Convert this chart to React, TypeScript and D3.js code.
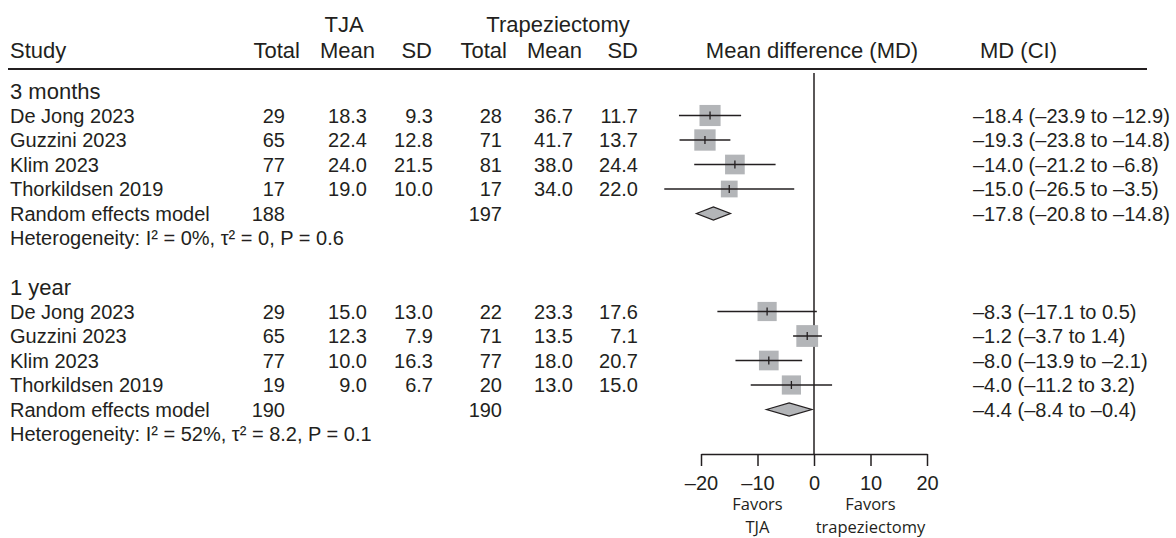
import React, { useEffect, useRef } from "react";
import * as d3 from "d3";

// studies (same four at both time points)
const studies3m = ["De Jong 2023", "Guzzini 2023", "Klim 2023", "Thorkildsen 2019"];
const studies1y = ["De Jong 2023", "Guzzini 2023", "Klim 2023", "Thorkildsen 2019"];

// 3 months: TJA arm / trapeziectomy arm
const tjaTotal3m = [29, 65, 77, 17];
const tjaMean3m = [18.3, 22.4, 24.0, 19.0];
const tjaSd3m = [9.3, 12.8, 21.5, 10.0];
const trapTotal3m = [28, 71, 81, 17];
const trapMean3m = [36.7, 41.7, 38.0, 34.0];
const trapSd3m = [11.7, 13.7, 24.4, 22.0];

// 1 year
const tjaTotal1y = [29, 65, 77, 19];
const tjaMean1y = [15.0, 12.3, 10.0, 9.0];
const tjaSd1y = [13.0, 7.9, 16.3, 6.7];
const trapTotal1y = [22, 71, 77, 20];
const trapMean1y = [23.3, 13.5, 18.0, 13.0];
const trapSd1y = [17.6, 7.1, 20.7, 15.0];

// mean difference + CI
const md3m = [-18.4, -19.3, -14.0, -15.0];
const lo3m = [-23.9, -23.8, -21.2, -26.5];
const hi3m = [-12.9, -14.8, -6.8, -3.5];
const md1y = [-8.3, -1.2, -8.0, -4.0];
const lo1y = [-17.1, -3.7, -13.9, -11.2];
const hi1y = [0.5, 1.4, -2.1, 3.2];

// box weights (estimated from the square sizes)
const weight3m = [46, 47, 40, 29];
const weight1y = [38, 49, 40, 38];

// random effects model: [TJA total, trap total] and [md, lo, hi]
const reTotals3m = [188, 197];
const reTotals1y = [190, 190];
const re3m = [-17.8, -20.8, -14.8];
const re1y = [-4.4, -8.4, -0.4];

const hetero3m = "Heterogeneity: I² = 0%, τ² = 0, P = 0.6";
const hetero1y = "Heterogeneity: I² = 52%, τ² = 8.2, P = 0.1";

const xTicks = [-20, -10, 0, 10, 20];
const favorLabels = [
  { at: -10, lines: ["Favors", "TJA"] },
  { at: 10, lines: ["Favors", "trapeziectomy"] },
];

const groups = [
  {
    label: "3 months", studies: studies3m,
    tjaTotal: tjaTotal3m, tjaMean: tjaMean3m, tjaSd: tjaSd3m,
    trapTotal: trapTotal3m, trapMean: trapMean3m, trapSd: trapSd3m,
    md: md3m, lo: lo3m, hi: hi3m, weight: weight3m,
    reTotals: reTotals3m, re: re3m, hetero: hetero3m,
  },
  {
    label: "1 year", studies: studies1y,
    tjaTotal: tjaTotal1y, tjaMean: tjaMean1y, tjaSd: tjaSd1y,
    trapTotal: trapTotal1y, trapMean: trapMean1y, trapSd: trapSd1y,
    md: md1y, lo: lo1y, hi: hi1y, weight: weight1y,
    reTotals: reTotals1y, re: re1y, hetero: hetero1y,
  },
];

const ink = "#231f20";
const boxFill = "#b3b5b8";
const font = "'Liberation Sans', Arial, Helvetica, sans-serif";

const fmt = (v: number) => (v < 0 ? "\u2013" : "") + Math.abs(v).toFixed(1);
const fmtTick = (v: number) => (v < 0 ? "\u2013" : "") + Math.abs(v);

function App() {
  const svgRef = useRef<SVGSVGElement>(null);

  useEffect(() => {
    const svg = d3.select(svgRef.current);
    if (!svg.node()) return;
    svg.selectAll("*").remove();

    const x = d3.scaleLinear().domain([-20, 20]).range([701, 927]);
    const row = d3.scaleLinear().domain([0, 14]).range([91, 434]);
    const box = d3.scaleSqrt().domain([0, 50]).range([0, 22]);
    const axisY = 454;

    // column right edges (values) and header right edges
    const cols = [285, 367, 433, 502, 573, 638];
    const heads = [
      { t: "Total", r: 300 }, { t: "Mean", r: 375 }, { t: "SD", r: 432 },
      { t: "Total", r: 507 }, { t: "Mean", r: 582 }, { t: "SD", r: 638 },
    ];
    const mdX = 973;

    const txt = (s: string, px: number, py: number, size = 20, anchor = "start") =>
      svg.append("text")
        .attr("x", px).attr("y", py)
        .attr("font-family", font).attr("font-size", size)
        .attr("fill", ink).attr("text-anchor", anchor)
        .text(s);

    // headers
    txt("TJA", 344, 32, 22, "middle");
    txt("Trapeziectomy", 558, 32, 22, "middle");
    txt("Study", 10, 58, 22);
    heads.forEach((h) => txt(h.t, h.r, 58, 22, "end"));
    txt("Mean difference (MD)", x(0) - 2, 58, 22, "middle");
    txt("MD (CI)", 980, 58, 22);

    svg.append("line")
      .attr("x1", 8).attr("x2", 1147).attr("y1", 69).attr("y2", 69)
      .attr("stroke", ink).attr("stroke-width", 2);

    // zero line
    svg.append("line")
      .attr("x1", x(0)).attr("x2", x(0)).attr("y1", 73).attr("y2", axisY)
      .attr("stroke", ink).attr("stroke-width", 1.5);

    groups.forEach((g, gi) => {
      const base = gi * 8;
      txt(g.label, 10, row(base) + 8, 22);

      g.studies.forEach((name, i) => {
        const cy = row(base + 1 + i);
        const by = cy + 7;
        txt(name, 10, by);
        const vals = [
          String(g.tjaTotal[i]), g.tjaMean[i].toFixed(1), g.tjaSd[i].toFixed(1),
          String(g.trapTotal[i]), g.trapMean[i].toFixed(1), g.trapSd[i].toFixed(1),
        ];
        vals.forEach((v, k) => txt(v, cols[k], by, 20, "end"));

        const s = box(g.weight[i]);
        svg.append("rect")
          .attr("x", x(g.md[i]) - s / 2).attr("y", cy - s / 2)
          .attr("width", s).attr("height", s)
          .attr("fill", boxFill);
        svg.append("line")
          .attr("x1", x(g.lo[i])).attr("x2", x(g.hi[i]))
          .attr("y1", cy).attr("y2", cy)
          .attr("stroke", ink).attr("stroke-width", 1.5);
        svg.append("line")
          .attr("x1", x(g.md[i])).attr("x2", x(g.md[i]))
          .attr("y1", cy - 4).attr("y2", cy + 4)
          .attr("stroke", ink).attr("stroke-width", 1.3);

        txt(`${fmt(g.md[i])} (${fmt(g.lo[i])} to ${fmt(g.hi[i])})`, mdX, by);
      });

      // random effects model
      const ry = row(base + 5);
      txt("Random effects model", 10, ry + 7);
      txt(String(g.reTotals[0]), cols[0], ry + 7, 20, "end");
      txt(String(g.reTotals[1]), cols[3], ry + 7, 20, "end");
      const [m, lo, hi] = g.re;
      const dh = 6.5;
      svg.append("path")
        .attr("d", `M${x(lo)},${ry}L${x(m)},${ry - dh}L${x(hi)},${ry}L${x(m)},${ry + dh}Z`)
        .attr("fill", boxFill).attr("stroke", ink).attr("stroke-width", 1.3);
      txt(`${fmt(m)} (${fmt(lo)} to ${fmt(hi)})`, mdX, ry + 7);

      txt(g.hetero, 10, row(base + 6) + 7);
    });

    // x axis
    const ax = svg.append("g")
      .attr("transform", `translate(0,${axisY})`)
      .call(
        d3.axisBottom(x)
          .tickValues(xTicks)
          .tickSize(12)
          .tickSizeOuter(0)
          .tickPadding(10)
          .tickFormat((d) => fmtTick(+d))
      );
    ax.attr("font-family", font).attr("font-size", 20);
    ax.select(".domain").attr("stroke", ink).attr("stroke-width", 1.5);
    ax.selectAll(".tick line").attr("stroke", ink).attr("stroke-width", 1.5);
    ax.selectAll(".tick text").attr("fill", ink);

    favorLabels.forEach((f) => {
      f.lines.forEach((l, j) => {
        svg.append("text")
          .attr("x", x(f.at)).attr("y", 510 + j * 23)
          .attr("font-family", "'Open Sans', 'Noto Sans', sans-serif")
          .attr("font-size", 16.5)
          .attr("fill", ink).attr("text-anchor", "middle")
          .text(l);
      });
    });
  }, []);

  return (
    <svg
      ref={svgRef}
      width={1176}
      height={538}
      style={{ position: "absolute", left: 0, top: 0, display: "block", background: "#fff" }}
    />
  );
}

export default App;
